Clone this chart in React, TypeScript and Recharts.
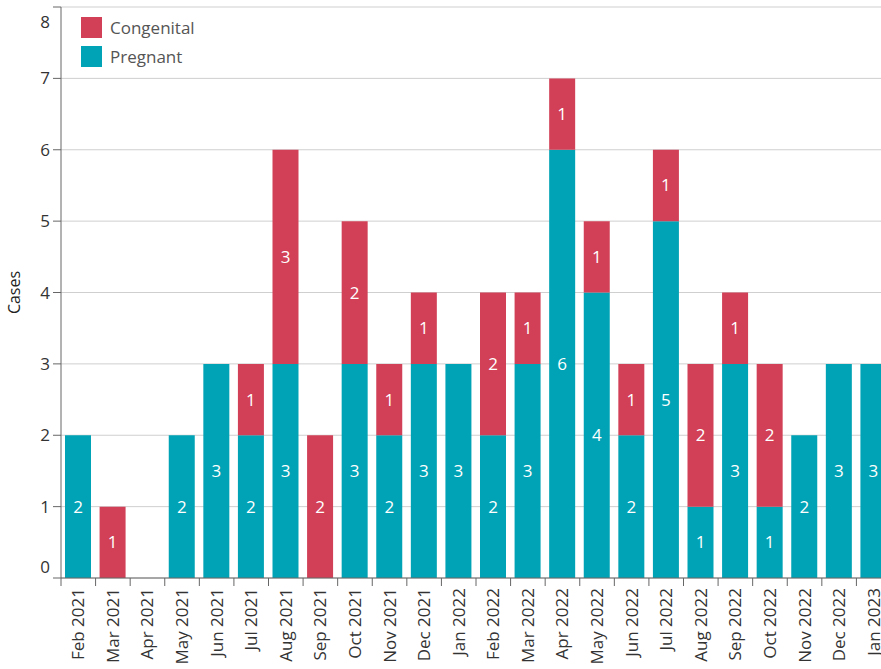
import React from "react";
import { Bar, BarChart, CartesianGrid, LabelList, XAxis, YAxis } from "recharts";

const months = [
  "Feb 2021", "Mar 2021", "Apr 2021", "May 2021", "Jun 2021", "Jul 2021",
  "Aug 2021", "Sep 2021", "Oct 2021", "Nov 2021", "Dec 2021", "Jan 2022",
  "Feb 2022", "Mar 2022", "Apr 2022", "May 2022", "Jun 2022", "Jul 2022",
  "Aug 2022", "Sep 2022", "Oct 2022", "Nov 2022", "Dec 2022", "Jan 2023",
];
const pregnant = [2, 0, 0, 2, 3, 2, 3, 0, 3, 2, 3, 3, 2, 3, 6, 4, 2, 5, 1, 3, 1, 2, 3, 3];
const congenital = [0, 1, 0, 0, 0, 1, 3, 2, 2, 1, 1, 0, 2, 1, 1, 1, 1, 1, 2, 1, 2, 0, 0, 0];
const yTicks = [0, 1, 2, 3, 4, 5, 6, 7, 8];

const data = months.map((m, i) => ({ month: m, pregnant: pregnant[i], congenital: congenital[i] }));

const TEAL = "#00A3B5";
const RED = "#D24057";
const CHART_W = 891;
const LEFT = 61;
const step = (CHART_W - LEFT) / months.length;
const FONT = "Open Sans, sans-serif";

const XTick = (props: any) => {
  const { x, y, payload } = props;
  const bx = x - step / 2;
  return (
    <g>
      <line x1={bx} x2={bx} y1={y} y2={y + 8} stroke="#666" />
      <text
        x={x + 6}
        y={y + 10}
        transform={`rotate(-90, ${x + 6}, ${y + 10})`}
        textAnchor="end"
        fontSize={17}
        fill="#333"
      >
        {payload.value}
      </text>
    </g>
  );
};

// keep the end labels inside the plot, like the original does
const YTick = (props: any) => {
  const { x, y, payload } = props;
  const v = payload.value;
  const shift = v === yTicks[yTicks.length - 1] ? 15 : v === yTicks[0] ? -11 : 0;
  return (
    <text x={x} y={y + shift} dy="0.36em" textAnchor="end" fontSize={17} fill="#333">
      {v}
    </text>
  );
};

const hideZero = (v: any) => (v ? v : "");

const legendItems = [
  { name: "Congenital", color: RED },
  { name: "Pregnant", color: TEAL },
];

export default function App() {
  return (
    <div style={{ position: "absolute", left: 0, top: 0, width: 881, height: 669, overflow: "hidden", background: "#fff", fontFamily: FONT }}>
      <BarChart
        width={CHART_W}
        height={669}
        data={data}
        margin={{ top: 7, right: 0, left: 0, bottom: 0 }}
        style={{ fontFamily: FONT }}
      >
        <CartesianGrid vertical={false} stroke="#cfcfcf" />
        <XAxis
          dataKey="month"
          interval={0}
          height={91}
          tickLine={false}
          tickSize={0}
          tickMargin={0}
          axisLine={{ stroke: "#666" }}
          tick={<XTick />}
        />
        <YAxis
          width={LEFT}
          domain={[0, 8]}
          ticks={yTicks}
          interval={0}
          tickSize={8}
          tickMargin={3}
          axisLine={{ stroke: "#666" }}
          tickLine={{ stroke: "#666" }}
          tick={<YTick />}
          label={{ value: "Cases", angle: -90, position: "insideLeft", offset: 14, style: { fontSize: 16, fill: "#222", textAnchor: "middle" } }}
        />
        <Bar dataKey="pregnant" stackId="a" fill={TEAL} barSize={26} isAnimationActive={false}>
          <LabelList dataKey="pregnant" position="center" fill="#fff" fontSize={17} formatter={hideZero} />
        </Bar>
        <Bar dataKey="congenital" stackId="a" fill={RED} barSize={26} isAnimationActive={false}>
          <LabelList dataKey="congenital" position="center" fill="#fff" fontSize={17} formatter={hideZero} />
        </Bar>
      </BarChart>
      <div style={{ position: "absolute", left: 81, top: 13, fontSize: 17, color: "#555" }}>
        {legendItems.map((it) => (
          <div key={it.name} style={{ display: "flex", alignItems: "center", height: 29 }}>
            <span style={{ width: 21, height: 21, background: it.color, display: "inline-block", marginRight: 8 }} />
            {it.name}
          </div>
        ))}
      </div>
    </div>
  );
}
